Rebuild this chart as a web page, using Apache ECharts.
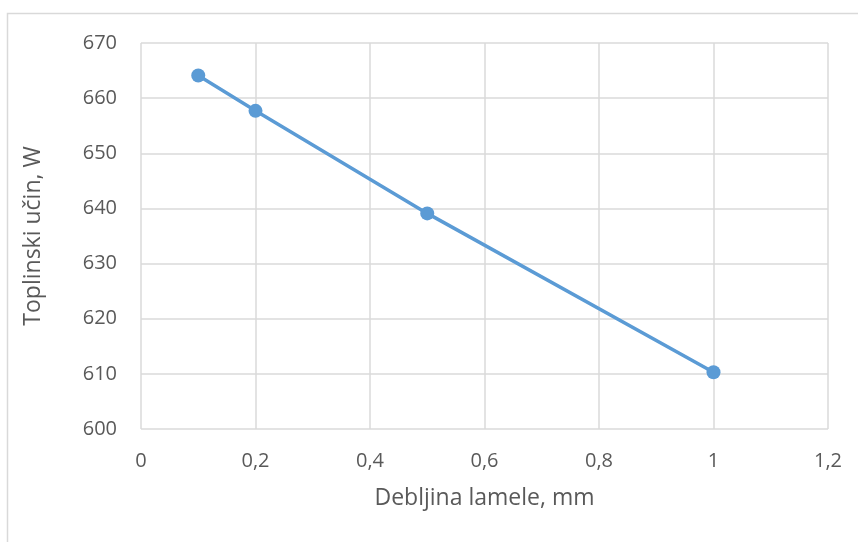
<!DOCTYPE html>
<html><head><meta charset="utf-8">
<script src="https://cdn.jsdelivr.net/npm/echarts@6/dist/echarts.min.js"></script>
<style>html,body{margin:0;padding:0;background:#fff}#c{width:858px;height:542px}</style>
</head><body><div id="c"></div>
<script>
const xValues = [0.1, 0.2, 0.5, 1];
const yValues = [664.1, 657.7, 639.1, 610.3];
const xTitle = 'Debljina lamele, mm';
const yTitle = 'Toplinski učin, W';
const FONT = '"Open Sans", "Noto Sans", sans-serif';
const chart = echarts.init(document.getElementById('c'), null, {renderer: 'canvas'});
const fmt = v => String(Math.round(v * 10) / 10).replace('.', ',');
chart.setOption({
  animation: false,
  graphic: [{type: 'rect', shape: {x: 7.5, y: 13.5, width: 900, height: 600}, style: {fill: 'none', stroke: '#d9d9d9', lineWidth: 1.5}, silent: true}],
  grid: {left: 141, top: 43, width: 687, height: 386, containLabel: false},
  xAxis: {
    type: 'value', min: 0, max: 1.2, interval: 0.2,
    name: xTitle, nameLocation: 'middle', nameGap: 58,
    nameTextStyle: {color: '#595959', fontSize: 23, fontFamily: FONT},
    axisLine: {show: false}, axisTick: {show: false},
    axisLabel: {color: '#595959', fontSize: 20, fontFamily: FONT, margin: 22, formatter: fmt},
    splitLine: {show: true, lineStyle: {color: '#dadada', width: 1.5}}
  },
  yAxis: {
    type: 'value', min: 600, max: 670, interval: 10,
    name: yTitle, nameLocation: 'middle', nameGap: 96, nameRotate: 90,
    nameTextStyle: {color: '#595959', fontSize: 23, fontFamily: FONT},
    axisLine: {show: false}, axisTick: {show: false},
    axisLabel: {color: '#595959', fontSize: 20, fontFamily: FONT, margin: 24},
    splitLine: {show: true, lineStyle: {color: '#dadada', width: 1.5}}
  },
  series: [{
    type: 'line',
    data: xValues.map((x, i) => [x, yValues[i]]),
    symbol: 'circle', symbolSize: 14,
    itemStyle: {color: '#5b9bd5'},
    lineStyle: {color: '#5b9bd5', width: 3.5}
  }]
});
</script></body></html>
